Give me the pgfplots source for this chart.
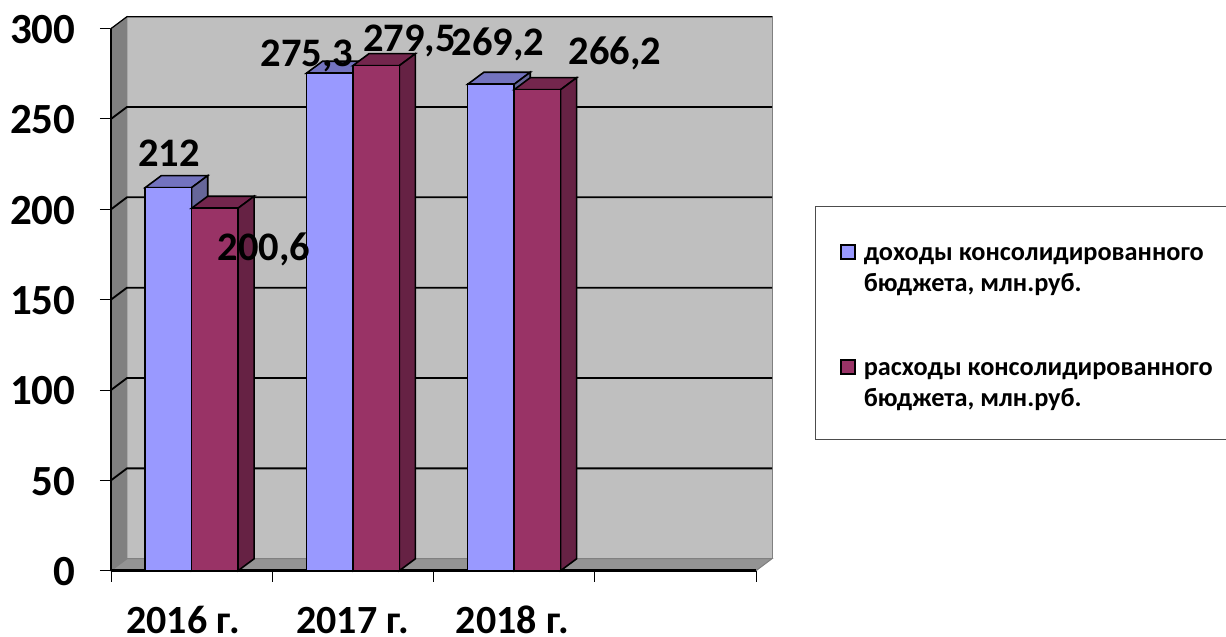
\documentclass[border=0pt]{standalone}
\usepackage{pgfplots}
\pgfplotsset{compat=1.18}
\usepackage{fontspec}
\setmainfont{Carlito}
\definecolor{sA}{HTML}{9999FF}
\definecolor{sB}{HTML}{993366}
\definecolor{tA}{HTML}{7373BF}
\definecolor{tB}{HTML}{73264D}
\definecolor{dA}{HTML}{666699}
\definecolor{dB}{HTML}{662244}
\pgfplotsset{sq/.style={legend image code/.code={\draw[##1,line width=2.2pt] (2.5pt,-8.5pt) rectangle (16.5pt,5.5pt);}}}
\begin{document}
\begin{tikzpicture}[x=1pt,y=1pt]
\path[use as bounding box] (0,0) rectangle (1226,637);
\draw[draw=black!70,line width=1pt] (1240,430) -- (815,430) -- (815,197.5) -- (1240,197.5);
\begin{axis}[
  at={(111pt,66.3pt)}, anchor=south west, scale only axis,
  width=661pt, height=554pt,
  xmin=0, xmax=4.0992, ymin=0, ymax=306.6,
  clip=false,
  axis line style={draw=none},
  tick style={draw=black,line width=1pt},
  major tick length=11pt,
  tick align=outside,
  xtick pos=bottom, ytick pos=left,
  ytick={0,50,100,150,200,250,300},
  yticklabel style={font=\fontsize{43}{47}\selectfont\bfseries, xshift=-21pt, yshift=-1pt},
  xtick={0,1,2,3,4},
  xticklabels={},
  xticklabel style={font=\fontsize{40}{44}\selectfont\bfseries, inner sep=0pt, text height=26pt, text depth=0pt},
  extra x ticks={0.447,1.5,2.49},
  extra x tick labels={2016 г.,2017 г.,2018 г.},
  extra x tick style={major tick length=0pt, tick style={draw=none}, xticklabel style={yshift=-37pt}},
  /pgf/number format/assume math mode=true,
  legend cell align=left,
  legend style={draw=none, fill=none, at={(1.102,0.6035)}, anchor=north west,
    font=\fontsize{26.3}{31}\selectfont\bfseries,
    /tikz/row sep=88pt, /tikz/column sep=6pt, inner sep=0pt},
]
% back wall, left wall, floor
\addplot[fill=black!25,draw=black!50,line width=1pt,forget plot] coordinates {(0.0992,6.64)(0.0992,306.6)(4.0992,306.6)(4.0992,6.64)} --cycle;
\addplot[fill=black!50,draw=black!50,line width=1pt,forget plot] coordinates {(0,0)(0,300)(0.0992,306.6)(0.0992,6.64)} --cycle;
\addplot[fill=black!42,draw=black!50,line width=1pt,forget plot] coordinates {(0,0)(0.0992,6.64)(4.0992,6.64)(4,0)} --cycle;
% grid lines
\addplot[black,line width=1.8pt,forget plot] coordinates {(0,50)(0.0992,56.64)(4.0992,56.64)};
\addplot[black,line width=1.8pt,forget plot] coordinates {(0,100)(0.0992,106.64)(4.0992,106.64)};
\addplot[black,line width=1.8pt,forget plot] coordinates {(0,150)(0.0992,156.64)(4.0992,156.64)};
\addplot[black,line width=1.8pt,forget plot] coordinates {(0,200)(0.0992,206.64)(4.0992,206.64)};
\addplot[black,line width=1.8pt,forget plot] coordinates {(0,250)(0.0992,256.64)(4.0992,256.64)};
\addplot[black,line width=1.2pt,forget plot] coordinates {(0,300)(0.0992,306.6)(4.0992,306.6)};
% front edges
\addplot[black,line width=1.8pt,forget plot] coordinates {(0,300)(0,0)};
\addplot[black,line width=2.6pt,forget plot] coordinates {(0,0)(4,0)};
% series 1 depth
\addplot[fill=tA,draw=black,line width=1.6pt,forget plot] coordinates {(0.212,212)(0.312,218.64)(0.6,218.64)(0.5,212)} --cycle;
\addplot[fill=dA,draw=black,line width=1.6pt,forget plot] coordinates {(0.5,0)(0.6,6.64)(0.6,218.64)(0.5,212)} --cycle;
\addplot[fill=tA,draw=black,line width=1.6pt,forget plot] coordinates {(1.212,275.3)(1.312,281.94)(1.6,281.94)(1.5,275.3)} --cycle;
\addplot[fill=dA,draw=black,line width=1.6pt,forget plot] coordinates {(1.5,0)(1.6,6.64)(1.6,281.94)(1.5,275.3)} --cycle;
\addplot[fill=tA,draw=black,line width=1.6pt,forget plot] coordinates {(2.212,269.2)(2.312,275.84)(2.6,275.84)(2.5,269.2)} --cycle;
\addplot[fill=dA,draw=black,line width=1.6pt,forget plot] coordinates {(2.5,0)(2.6,6.64)(2.6,275.84)(2.5,269.2)} --cycle;
% series 1 front
\addplot[ybar,bar width=0.288,bar shift=-0.144,fill=sA,draw=black,line width=1.6pt,sq] coordinates {(0.5,212)(1.5,275.3)(2.5,269.2)};
\addlegendentry{\begin{tabular}[t]{@{}l@{}}доходы консолидированного\\бюджета, млн.руб.\end{tabular}}
% series 2 depth
\addplot[fill=tB,draw=black,line width=1.6pt,forget plot] coordinates {(0.5,200.6)(0.6,207.24)(0.888,207.24)(0.788,200.6)} --cycle;
\addplot[fill=dB,draw=black,line width=1.6pt,forget plot] coordinates {(0.788,0)(0.888,6.64)(0.888,207.24)(0.788,200.6)} --cycle;
\addplot[fill=tB,draw=black,line width=1.6pt,forget plot] coordinates {(1.5,279.5)(1.6,286.14)(1.888,286.14)(1.788,279.5)} --cycle;
\addplot[fill=dB,draw=black,line width=1.6pt,forget plot] coordinates {(1.788,0)(1.888,6.64)(1.888,286.14)(1.788,279.5)} --cycle;
\addplot[fill=tB,draw=black,line width=1.6pt,forget plot] coordinates {(2.5,266.2)(2.6,272.84)(2.888,272.84)(2.788,266.2)} --cycle;
\addplot[fill=dB,draw=black,line width=1.6pt,forget plot] coordinates {(2.788,0)(2.888,6.64)(2.888,272.84)(2.788,266.2)} --cycle;
% series 2 front
\addplot[ybar,bar width=0.288,bar shift=0.144,fill=sB,draw=black,line width=1.6pt,sq] coordinates {(0.5,200.6)(1.5,279.5)(2.5,266.2)};
\addlegendentry{\begin{tabular}[t]{@{}l@{}}расходы консолидированного\\бюджета, млн.руб.\end{tabular}}
% data labels
\begin{scope}[every node/.style={font=\fontsize{40.5}{45}\selectfont\bfseries,inner sep=0pt}]
\node at (axis cs:0.36,231) {212};
\node at (axis cs:0.95,178) {200,6};
\node at (axis cs:1.216,285) {275,3};
\node at (axis cs:1.85,293) {279,5};
\node at (axis cs:2.4,291.5) {269,2};
\node at (axis cs:3.126,286.5) {266,2};
\end{scope}
\end{axis}
\end{tikzpicture}
\end{document}
